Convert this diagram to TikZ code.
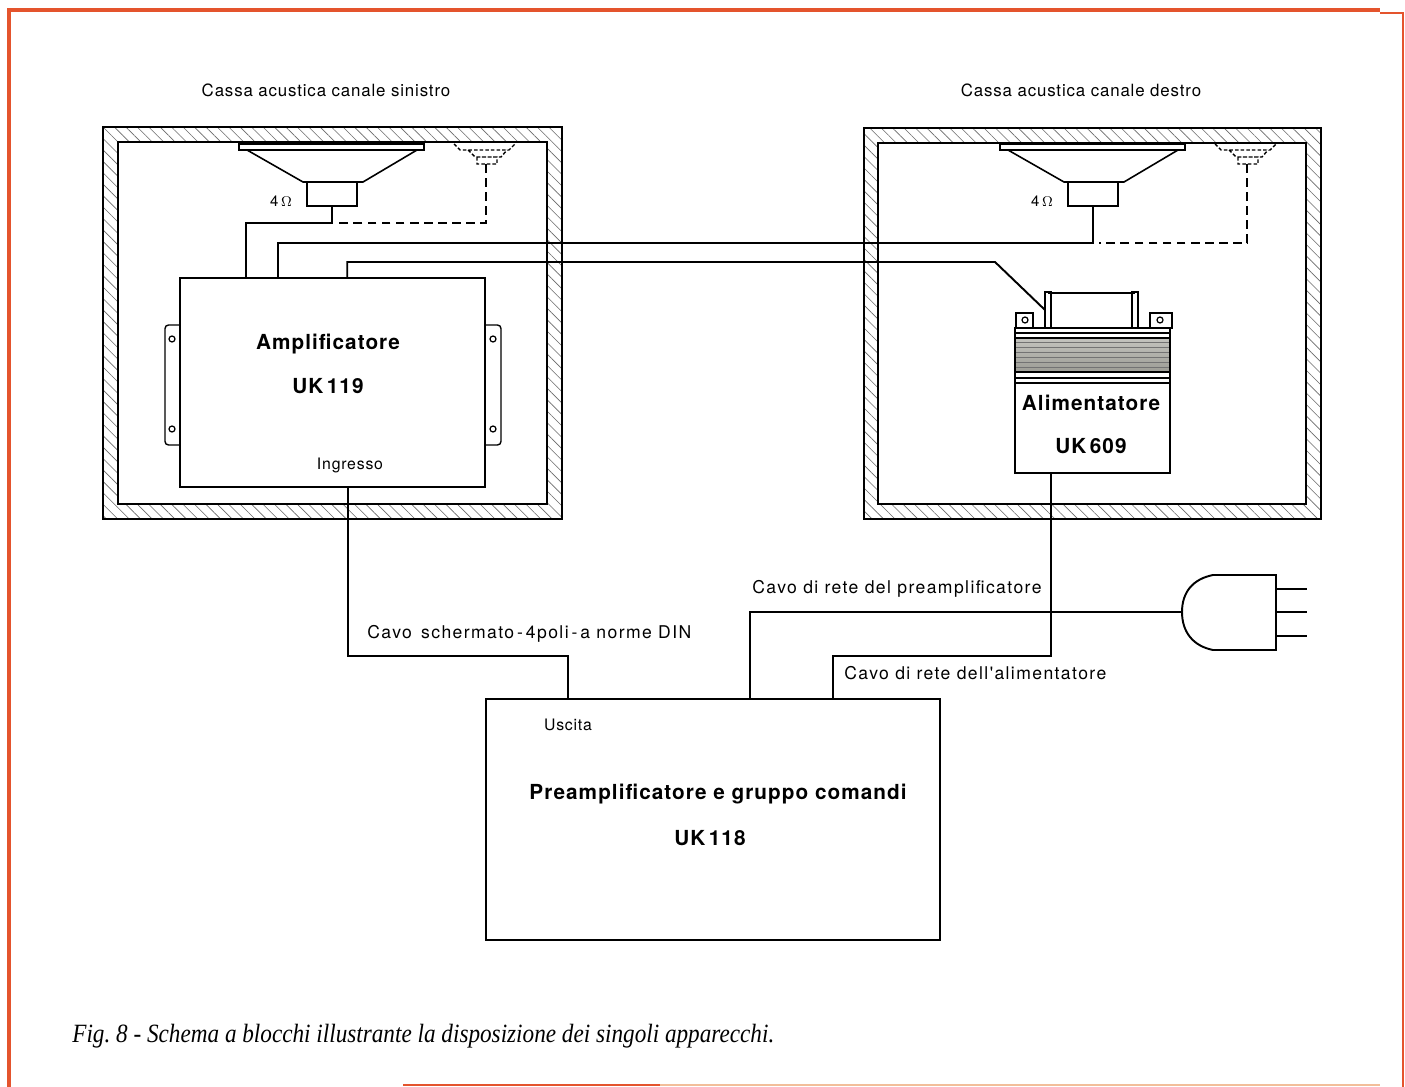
\documentclass[tikz,border=0pt]{standalone}
\usepackage{fontspec}
\setmainfont{TeX Gyre Heros}
\newfontfamily\lblfont[LetterSpace=5]{TeX Gyre Heros}
\newfontfamily\widefont[LetterSpace=8]{TeX Gyre Heros}
\newfontfamily\capfont{Liberation Serif}
\usetikzlibrary{calc,patterns.meta}
\definecolor{frameorange}{HTML}{E4542D}
\definecolor{framepeach}{HTML}{F2BE9A}
\definecolor{woodgray}{HTML}{6A6A6A}
\definecolor{coregray}{HTML}{9C9C94}
\tikzset{
  wire/.style={draw=black, line width=1.1pt},
  tweet/.style={draw=black, line width=1.1pt, dash pattern=on 5pt off 3pt},
  wall/.style={draw=black, line width=1pt,
    pattern={Lines[angle=-45,distance=4.6pt,line width=0.35pt]}, pattern color=woodgray},
  cabinet/.style={draw=black, line width=1.6pt, fill=white},
  unit/.style={draw=black, line width=0.9pt, fill=white, inner sep=0pt},
  tab/.style={draw=black, line width=0.8pt, fill=white},
  title/.style={font=\lblfont\fontsize{9.6}{11}\selectfont, anchor=base},
  unitname/.style={font=\lblfont\bfseries\fontsize{11.8}{14}\selectfont, anchor=base},
  note/.style={font=\lblfont\fontsize{9}{11}\selectfont, anchor=base west, inner sep=0pt},
  cable/.style={font=\widefont\fontsize{10}{12}\selectfont, anchor=base west, inner sep=0pt},
  speakerset/.pic={
    \draw[line width=0.9pt] (0,0) rectangle (185,6);
    \draw[line width=0.9pt] (8,6) -- (64,38) -- (124,38) -- (178,6);
    \draw[line width=0.9pt, fill=white] (68,38) rectangle (118,62);
    \coordinate (-coil) at (93,62);
    \node[font=\fontsize{8.5}{9}\selectfont] (-ohm) at (42,57) {4\,$\Omega$};
    \draw[tweet, line width=0.8pt, dash pattern=on 2pt off 1.2pt]
      (215,0) -- (221,6) -- (270,6) -- (276,0)
      (229,6) -- (236,13) -- (262,13) -- (268,6)
      (238,13) rectangle (258,20);
    \coordinate (-tw) at (247,20);
  }
}

\begin{document}
\begin{tikzpicture}[x=0.02cm,y=-0.02cm]
  \path[use as bounding box, fill=white] (0,0) rectangle (1405,1087);

  \draw[frameorange, line width=2.2pt] (9,1087) -- (9,10) -- (1380,10);
  \draw[frameorange, line width=1.6pt] (1380,13) -- (1403,13) -- (1403,1087);
  \draw[frameorange, line width=1.4pt] (403,1085) -- (660,1085);
  \draw[framepeach, line width=1.4pt] (660,1085) -- (1380,1085);

  \node[title] (titleL) at (326,97) {Cassa acustica canale sinistro};
  \node[title] (titleR) at (1081,97) {Cassa acustica canale destro};

  \path[wall] (103,127) rectangle (562,519);
  \path[cabinet] (118,142) rectangle (547,504);
  \path[wall] (864,128) rectangle (1321,519);
  \path[cabinet] (878,143) rectangle (1306,504);

  \pic (spkL) at (239,144) {speakerset};
  \pic (spkR) at (1000,144) {speakerset};

  % amplifier with its fixing lugs
  \draw[tab, rounded corners=2pt] (181,325) -- (165,325) -- (165,445) -- (181,445);
  \draw[tab, rounded corners=2pt] (485,325) -- (501,325) -- (501,445) -- (485,445);
  \foreach \x in {172,493}
    \foreach \y in {339,429}
      \draw[line width=0.7pt] (\x,\y) circle[radius=3];
  \node[unit, minimum width=6.1cm, minimum height=4.18cm] (amp) at (332.5,382.5) {};
  \node[unitname] (ampname) at (328,350) {Amplificatore};
  \node[unitname] (ampcode) at (328,394) {UK\,119};
  \node[note, anchor=base] (ampin) at (350,469) {Ingresso};

  % power supply: bracket, lugs and laminated core
  \draw[tab] (1016,313) rectangle (1033,328) (1150,313) rectangle (1172,328);
  \draw[line width=0.7pt] (1025,320) circle[radius=3] (1160,320) circle[radius=3];
  \draw[tab] (1045,292) rectangle (1051,328) (1132,292) rectangle (1138,328);
  \draw[line width=0.9pt] (1048,293) -- (1135,293);
  \coordinate (lug) at (1045,310);
  \fill[white] (1015,328) rectangle (1170,473);
  \shade[top color=coregray!60, bottom color=coregray] (1015,338) rectangle (1170,372);
  \foreach \y in {342,347,...,370}
    \draw[black!55, line width=0.3pt] (1015,\y) -- (1170,\y);
  \draw[line width=0.6pt] (1015,333) -- (1170,333) (1015,338) -- (1170,338)
    (1015,372) -- (1170,372) (1015,378) -- (1170,378) (1015,383) -- (1170,383);
  \node[unit, fill=none, minimum width=3.1cm, minimum height=2.9cm] (alim) at (1092.5,400.5) {};
  \node[unitname] (alimname) at (1091,411) {Alimentatore};
  \node[unitname] (alimcode) at (1091,453) {UK\,609};

  \node[unit, minimum width=9.08cm, minimum height=4.82cm] (preamp) at (713,819.5) {};
  \node[note, anchor=base] (preout) at (568,730) {Uscita};
  \node[unitname] (prename) at (718,799) {Preamplificatore e gruppo comandi};
  \node[unitname] (precode) at (710,845) {UK\,118};

  % mains plug
  \coordinate (plug) at (1182,612);
  \draw[wire] (1213,575) -- (1276,575) -- (1276,650) -- (1213,650)
    .. controls (1193,646) and (1182,632) .. (plug)
    .. controls (1182,592) and (1193,579) .. (1213,575);
  \foreach \y in {589,612,636}
    \draw[wire] (1276,\y) -- ++(31,0);

  \draw[wire] (spkL-coil) -- ++(0,17) -| ($(amp.north west)+(67,0)$);
  \draw[tweet] (spkL-tw) |- (337,223);
  \draw[wire] ($(amp.north west)+(99,0)$) |- ($(spkR-coil)+(0,37)$) -- (spkR-coil);
  \draw[tweet] (spkR-tw) |- (1099,243);
  \draw[wire] ($(amp.north west)+(168,0)$) |- (995,262) -- (lug);

  \draw[wire] ($(amp.south west)+(169,0)$) -- ++(0,168) -| ($(preamp.north west)+(83,0)$);
  \draw[wire] (plug) -| ($(preamp.north west)+(265,0)$);
  \draw[wire] ($(alim.south west)+(37,0)$) -- ++(0,182) -| ($(preamp.north west)+(348,0)$);

  \node[cable] (dincable) at (367,638) {Cavo\ \,schermato\,-\,4poli\,-\,a norme DIN};
  \node[cable] (precable) at (752,593) {Cavo di rete del preamplificatore};
  \node[cable] (alimcable) at (844,679) {Cavo di rete dell'alimentatore};

  \node[anchor=base west, inner sep=0pt, font=\capfont\itshape\fontsize{15}{18}\selectfont] (caption) at (72,1042)
    {\scalebox{0.88}[1]{Fig.~8 - Schema a blocchi illustrante la disposizione dei singoli apparecchi.}};
\end{tikzpicture}
\end{document}
